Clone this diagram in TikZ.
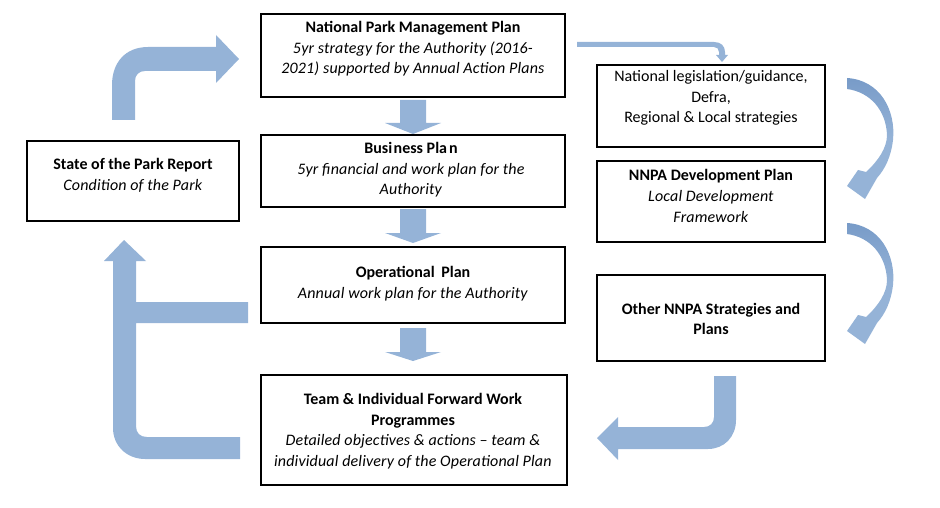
\documentclass[tikz,border=0pt]{standalone}
\usepackage{fontspec}
\setmainfont{Carlito}[ItalicFeatures={LetterSpace=1}]
\definecolor{arrowblue}{RGB}{149,179,215}
\definecolor{arrowdark}{RGB}{120,155,200}
\tikzset{
  box/.style={draw=black, line width=1.6pt, fill=white, inner sep=0pt},
  txt/.style={align=center, inner sep=0pt, font=\fontsize{16}{20.6}\selectfont},
  blockarrow/.style={fill=arrowblue, draw=none},
  curvearrow/.style={top color=arrowdark, bottom color=arrowblue, middle color=arrowblue, draw=none},
}
\newcommand{\downarr}[3]{%
  \fill[arrowblue] (400,#1) -- (426,#1) -- (426,#2) -- (441,#2) -- (413,#3) -- (385,#2) -- (400,#2) -- cycle;}
\begin{document}
\begin{tikzpicture}[x=1pt,y=-1pt]
\useasboundingbox (0,0) rectangle (940,508);
% boxes
\node[box, minimum width=304pt, minimum height=83pt] (npmp) at (413,55.5) {};
\node[box, minimum width=304pt, minimum height=72pt] (bp) at (413,171) {};
\node[box, minimum width=304pt, minimum height=76pt] (op) at (413,285) {};
\node[box, minimum width=306pt, minimum height=110pt] (team) at (414,430) {};
\node[box, minimum width=212pt, minimum height=80pt] (state) at (133,181) {};
\node[box, minimum width=228pt, minimum height=82pt] (natleg) at (711,106) {};
\node[box, minimum width=228pt, minimum height=81pt] (nnpadev) at (711,201.5) {};
\node[box, minimum width=228pt, minimum height=86pt] (other) at (711,318) {};
% texts
\node[txt] (npmpT) at (413,49) {\textbf{National Park Management Plan}\\ \textit{5yr strategy for the Authority (2016-}\\ \textit{2021) supported by Annual Action Plans}};
\node[txt] (bpT) at (411,170) {\textbf{Busi\kern1.5pt ness Pla\kern2pt n}\\ \textit{5yr financial and work plan for the}\\ \textit{Authority}};
\node[txt] (opT) at (413,283.5) {\textbf{Operational\kern3pt\ Plan}\\ \textit{Annual work plan for the Authority}};
\node[txt] (teamT) at (413,431) {\textbf{Team \& Individual Forward Work}\\ \textbf{Programmes}\\ \textit{Detailed objectives \& actions -- team \&}\\ \textit{individual delivery of the Operational Plan}};
\node[txt] (stateT) at (133,175.5) {\textbf{State of the Park Report}\\ \textit{Condition of the Park}};
\node[txt] (natlegT) at (711,98) {National legislation/guidance,\\ Defra,\\ Regional \& Local strategies};
\node[txt] (nnpadevT) at (711,196) {\textbf{NNPA Development Plan}\\ \textit{Local Development}\\ \textit{Framework}};
\node[txt] (otherT) at (711,319) {\textbf{Other NNPA Strategies and}\\ \textbf{Plans}};
% down arrows
\downarr{100}{123}{134}
\downarr{209}{233}{243}
\downarr{328}{352}{361}
% left up-right bent arrow
\fill[arrowblue] (112,120) -- (112,85) .. controls (112,63) and (125,47) .. (148,47) -- (216,47) -- (216,35) -- (239,59) -- (216,83) -- (216,71) -- (145,71) .. controls (139,71) and (135,75) .. (135,81) -- (135,120) -- cycle;
% left big up arrow with branches
\fill[arrowblue] (113,261) -- (104,261) -- (124,240) -- (146,261) -- (136,261) -- (136,302) -- (248,302) -- (248,323) -- (136,323) -- (136,426) .. controls (136,433) and (140,437) .. (147,437) -- (240,437) -- (240,459) -- (145,459) .. controls (127,459) and (113,446) .. (113,428) -- cycle;
% thin arrow to national legislation
\fill[arrowblue] (577,42) -- (714,42) .. controls (721,42) and (725,46) .. (725,52) -- (725,55) -- (728,55) -- (722,62) -- (716,55) -- (719,55) -- (719,52) .. controls (719,49) and (717,47) .. (714,47) -- (577,47) -- cycle;
% bottom right bent arrow
\fill[arrowblue] (714,376) -- (736,376) -- (736,420) .. controls (736,437) and (724,449) .. (708,449) -- (618,449) -- (618,460) -- (597,438) -- (618,417) -- (618,427) -- (704,427) .. controls (710,427) and (714,423) .. (714,417) -- cycle;
% curved arrows on right
\foreach \dy in {0,145} {
\begin{scope}[yshift=-\dy pt]
\shade[curvearrow] (847,78) .. controls (880,80) and (896,110) .. (893,140) .. controls (891,157) and (885,169) .. (877,178) -- (865,199) -- (847,186) -- (858,170) -- (866,172) .. controls (878,161) and (887,148) .. (887,135) .. controls (886,110) and (870,92) .. (847,89) -- cycle;
\end{scope}}
\end{tikzpicture}
\end{document}
